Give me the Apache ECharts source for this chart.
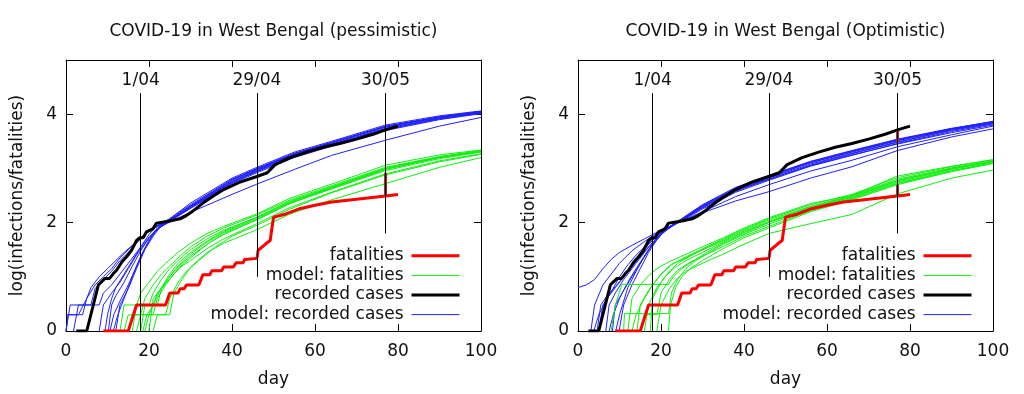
<!DOCTYPE html>
<html><head><meta charset="utf-8">
<script src="https://cdn.jsdelivr.net/npm/echarts@6/dist/echarts.min.js"></script>
<style>html,body{margin:0;padding:0;background:#fff}#c{width:1024px;height:394px}</style>
</head><body><div id="c"></div>
<script>
// ---------------- DATA ----------------
const panelTitles = ['COVID-19 in West Bengal (pessimistic)', 'COVID-19 in West Bengal (Optimistic)'];
const xTickStep = 20;
const legendNames = ['fatalities', 'model: fatalities', 'recorded cases', 'model: recorded cases'];

// observed (log10) — same in both panels
const fatalities = [[9,0],[15,0],[17,0.48],[24,0.48],[25,0.7],[27,0.7],[27.5,0.78],[28.5,0.78],[29,0.85],[32,0.85],[33,1.04],[34.7,1.04],[35.1,1.11],[37.5,1.11],[38,1.18],[40.3,1.18],[41,1.26],[42.7,1.26],[43,1.32],[46,1.34],[46.3,1.49],[48,1.6],[49.2,1.67],[50,2.1],[53,2.16],[56,2.25],[60,2.32],[64,2.38],[70,2.43],[77,2.49],[80,2.52]];
const recordedCases = [[2.5,0],[5,0],[7.8,0.85],[9.4,0.97],[10.5,0.97],[11.4,1.06],[12.2,1.12],[13.4,1.27],[14.6,1.37],[15.8,1.49],[17,1.67],[17.8,1.72],[18.6,1.72],[19.4,1.83],[21,1.89],[21.8,1.99],[23.5,2.01],[25,2.03],[27.5,2.07],[29,2.13],[30.7,2.22],[33,2.36],[35.5,2.49],[38,2.61],[42,2.75],[46,2.85],[48.5,2.92],[50.4,3.07],[54,3.2],[58,3.3],[62,3.39],[66,3.46],[70,3.54],[74,3.63],[77,3.71],[80,3.78]];

// pessimistic model runs
const pessModelCases = [
 [[0,0],[1,0.48],[6,0.48],[7,0.78],[9,0.95],[11,1.1],[13,1.3],[15,1.45],[17,1.62],[19,1.78],[21,1.9],[24,2.0],[30,2.3],[40,2.75],[46,2.97],[55,3.26],[64,3.47],[77,3.76],[90,3.94],[100,4.04]],
 [[0,0.3],[3,0.3],[5,0.6],[7,0.85],[9,1.0],[11,1.15],[13,1.35],[15,1.5],[17,1.65],[20,1.85],[23,1.97],[30,2.33],[40,2.8],[46,3.0],[55,3.28],[64,3.48],[77,3.78],[90,3.95],[100,4.05]],
 [[1.8,0],[3,0.48],[8,0.48],[9,0.7],[11,0.85],[13,1.05],[15,1.25],[17,1.45],[19,1.65],[22,1.88],[25,2.03],[30,2.28],[40,2.74],[46,2.95],[55,3.23],[64,3.44],[77,3.73],[90,3.92],[100,4.03]],
 [[9.4,0],[10,0.3],[11,0.6],[12,0.8],[14,1.05],[16,1.3],[18,1.55],[20,1.78],[22,1.95],[25,2.07],[30,2.36],[40,2.82],[46,3.02],[55,3.3],[64,3.5],[77,3.8],[90,3.97],[100,4.06]],
 [[10.2,0],[11,0.48],[12,0.65],[14,0.9],[16,1.2],[18,1.48],[20,1.72],[22,1.9],[25,2.05],[30,2.3],[40,2.78],[46,2.98],[55,3.27],[64,3.47],[77,3.77],[90,3.95],[100,4.05]],
 [[10.6,0],[11.5,0.3],[13,0.55],[15,0.85],[17,1.2],[19,1.52],[21,1.78],[23,1.95],[26,2.1],[30,2.31],[40,2.79],[46,2.99],[55,3.27],[64,3.48],[77,3.77],[90,3.95],[100,4.05]],
 [[11.4,0],[12.5,0.3],[14,0.6],[16,1.0],[18,1.38],[20,1.68],[22,1.88],[24,1.98],[27,2.12],[30,2.26],[40,2.72],[46,2.92],[55,3.2],[64,3.41],[77,3.7],[90,3.9],[100,4.01]],
 [[0,0],[0.5,0.3],[4,0.3],[5,0.6],[6,0.8],[8,1.0],[10,1.15],[12,1.3],[14,1.45],[16,1.58],[18,1.72],[20,1.85],[22,1.93],[25,2.04],[30,2.29],[40,2.76],[46,2.96],[55,3.24],[64,3.45],[77,3.74],[90,3.93],[100,4.03]],
 [[8,0],[9,0.48],[11,0.7],[13,0.9],[15,1.15],[17,1.4],[19,1.62],[21,1.8],[23,1.93],[26,2.05],[30,2.19],[40,2.52],[46,2.71],[55,2.98],[64,3.24],[77,3.52],[90,3.78],[100,3.94]],
 [[12,0],[13,0.48],[15,0.78],[17,1.15],[19,1.5],[21,1.75],[23,1.95],[26,2.08],[30,2.27],[40,2.74],[46,2.94],[55,3.22],[64,3.43],[77,3.72],[90,3.91],[100,4.02]]
];
const pessModelFatal = [
 [[14,0],[15,0.3],[18,0.3],[19,0.6],[21,0.85],[23,1.05],[25,1.2],[27,1.35],[30,1.55],[34,1.75],[38,1.9],[46,2.14],[54,2.42],[64,2.68],[77,3.02],[90,3.22],[100,3.33]],
 [[15,0],[16,0.3],[20,0.3],[21,0.48],[22,0.7],[24,0.9],[26,1.1],[28,1.25],[30,1.38],[34,1.6],[38,1.78],[46,2.05],[54,2.35],[64,2.63],[77,2.98],[90,3.2],[100,3.31]],
 [[16,0],[17,0.48],[20,0.48],[21,0.7],[23,0.95],[25,1.15],[27,1.3],[30,1.5],[34,1.7],[38,1.86],[46,2.1],[54,2.4],[64,2.66],[77,3.0],[90,3.21],[100,3.32]],
 [[17,0],[18,0.3],[21,0.3],[22,0.6],[24,0.85],[26,1.05],[28,1.2],[30,1.3],[34,1.52],[38,1.7],[46,1.98],[54,2.28],[64,2.56],[77,2.9],[90,3.14],[100,3.27]],
 [[18,0],[19,0.48],[22,0.48],[23,0.78],[25,1.0],[27,1.2],[30,1.42],[34,1.64],[38,1.82],[46,2.08],[54,2.37],[64,2.64],[77,2.99],[90,3.2],[100,3.31]],
 [[19,0],[20,0.3],[24,0.3],[25,0.6],[27,0.9],[29,1.1],[32,1.3],[36,1.55],[40,1.75],[46,1.95],[54,2.25],[64,2.55],[77,2.88],[90,3.12],[100,3.26]],
 [[20,0],[21,0.6],[23,0.78],[25,0.95],[27,1.15],[30,1.35],[34,1.6],[38,1.8],[46,2.06],[54,2.36],[64,2.62],[77,2.96],[90,3.18],[100,3.3]],
 [[13,0],[14,0.48],[17,0.48],[18,0.7],[20,0.9],[22,1.1],[24,1.25],[27,1.45],[30,1.62],[34,1.8],[38,1.93],[46,2.16],[54,2.45],[64,2.71],[77,3.06],[90,3.25],[100,3.34]],
 [[21,0],[22,0.3],[25,0.3],[26,0.7],[28,0.95],[30,1.18],[34,1.45],[38,1.62],[46,1.87],[54,2.16],[64,2.42],[77,2.72],[90,3.02],[100,3.2]],
 [[18.5,0],[19.5,0.3],[21,0.48],[23,0.8],[25,1.05],[27,1.25],[30,1.45],[34,1.66],[38,1.84],[46,2.1],[54,2.38],[64,2.65],[77,3.0],[90,3.21],[100,3.32]]
];

// optimistic model runs
const optModelCases = [
 [[0,0.8],[2,0.85],[4,0.95],[6,1.15],[8,1.32],[10,1.45],[13,1.58],[16,1.7],[19,1.82],[23,1.96],[30,2.3],[38,2.6],[46,2.8],[56,3.05],[66,3.25],[77,3.45],[90,3.66],[100,3.8]],
 [[3.1,0],[4,0.48],[6,0.85],[8,1.05],[10,1.25],[13,1.48],[16,1.65],[19,1.8],[23,1.97],[30,2.33],[38,2.65],[46,2.87],[56,3.13],[66,3.33],[77,3.54],[90,3.74],[100,3.86]],
 [[3.8,0],[5,0.3],[7,0.6],[9,0.8],[11,1.0],[14,1.3],[17,1.6],[20,1.82],[23,1.96],[30,2.3],[38,2.62],[46,2.84],[56,3.1],[66,3.3],[77,3.51],[90,3.72],[100,3.85]],
 [[4.6,0],[5.5,0.48],[7,0.65],[9,0.82],[11,1.0],[14,1.28],[17,1.55],[20,1.8],[23,1.97],[30,2.32],[38,2.64],[46,2.86],[56,3.12],[66,3.32],[77,3.53],[90,3.73],[100,3.86]],
 [[6.7,0],[7.5,0.48],[9,0.7],[11,0.95],[14,1.25],[17,1.55],[20,1.8],[23,1.96],[30,2.28],[38,2.6],[46,2.82],[56,3.08],[66,3.28],[77,3.49],[90,3.71],[100,3.84]],
 [[7.5,0],[8.5,0.3],[10,0.6],[12,0.9],[14,1.15],[17,1.5],[20,1.78],[23,1.95],[30,2.25],[38,2.56],[46,2.78],[56,3.04],[66,3.24],[77,3.46],[90,3.68],[100,3.82]],
 [[8.3,0],[9,0.48],[11,0.75],[13,1.0],[15,1.25],[18,1.6],[21,1.86],[24,2.0],[30,2.27],[38,2.58],[46,2.8],[56,3.06],[66,3.27],[77,3.48],[90,3.7],[100,3.83]],
 [[9.1,0],[10,0.3],[12,0.8],[14,1.1],[16,1.38],[18,1.62],[21,1.87],[24,2.0],[30,2.2],[38,2.48],[46,2.7],[56,2.95],[66,3.15],[77,3.4],[90,3.62],[100,3.78]],
 [[9.9,0],[11,0.48],[13,0.85],[15,1.15],[17,1.45],[19,1.68],[21,1.86],[24,1.99],[30,2.18],[38,2.4],[46,2.57],[56,2.82],[66,3.03],[77,3.33],[90,3.58],[100,3.73]],
 [[5,0],[6,0.48],[8,0.72],[10,1.0],[12,1.22],[14,1.4],[16,1.55],[18,1.68],[21,1.88],[24,2.01],[30,2.3],[38,2.62],[46,2.85],[56,3.11],[66,3.31],[77,3.52],[90,3.73],[100,3.87]]
];
const optModelFatal = [
 [[8,0],[9,0.48],[10.6,0.86],[21.8,0.86],[23,1.0],[25,1.15],[28,1.3],[31,1.45],[35,1.62],[40,1.8],[46,2.0],[56,2.27],[66,2.47],[77,2.75],[90,2.98],[100,3.12]],
 [[11,0],[11.2,0.32],[21.8,0.32],[22.5,0.7],[24,0.95],[26,1.15],[28,1.28],[31,1.42],[35,1.6],[40,1.78],[46,1.97],[56,2.25],[66,2.45],[77,2.73],[90,2.96],[100,3.1]],
 [[14.2,0],[15,0.48],[17,0.75],[19,0.95],[21,1.12],[23,1.25],[26,1.35],[30,1.5],[35,1.68],[40,1.86],[46,2.05],[56,2.3],[66,2.5],[77,2.8],[90,3.01],[100,3.14]],
 [[17.4,0],[18,0.6],[20,0.9],[22,1.1],[24,1.25],[27,1.38],[30,1.5],[35,1.66],[40,1.84],[46,2.02],[56,2.29],[66,2.49],[77,2.78],[90,3.0],[100,3.13]],
 [[21.8,0],[22.3,0.48],[23.5,0.8],[25,1.0],[27,1.15],[30,1.3],[35,1.52],[40,1.72],[46,1.9],[56,2.2],[66,2.42],[77,2.7],[90,2.94],[100,3.09]],
 [[13,0],[14,0.3],[16,0.6],[18,0.85],[20,1.05],[22,1.2],[25,1.33],[29,1.48],[35,1.7],[40,1.88],[46,2.07],[56,2.33],[66,2.52],[77,2.83],[90,3.03],[100,3.16]],
 [[16,0],[17,0.48],[19,0.8],[21,1.0],[23,1.15],[26,1.3],[30,1.45],[35,1.64],[40,1.82],[46,2.01],[56,2.27],[66,2.47],[77,2.77],[90,2.99],[100,3.13]],
 [[15,0],[16,0.3],[19,0.3],[20,0.7],[22,0.95],[24,1.12],[27,1.27],[30,1.38],[35,1.56],[40,1.75],[46,1.93],[56,2.22],[66,2.44],[77,2.72],[90,2.95],[100,3.1]],
 [[19,0],[20,0.48],[22,0.78],[24,0.98],[26,1.1],[30,1.25],[35,1.42],[40,1.6],[46,1.8],[56,1.98],[66,2.15],[77,2.53],[90,2.82],[100,2.97]],
 [[12,0],[13,0.6],[15,0.85],[17,1.02],[19,1.15],[22,1.28],[25,1.38],[29,1.52],[35,1.72],[40,1.9],[46,2.09],[56,2.35],[66,2.5],[77,2.86],[90,3.04],[100,3.16]]
];

// date markers
const markerDays = [18, 46, 77];
const markerLabels = ['1/04', '29/04', '30/05'];
const markerBottoms = [0, 1, 1.8];
const markerTop = 4.39;

// prediction bars at 30/05: [day, low, high]
const pessBars = [[77, 2.49, 2.92]];
const optBars = [[77, 3.48, 3.69], [77, 2.5, 2.7]];

// ---------------- CHART ----------------
const FONT = 'DejaVu Sans';
const FS = 17;
const TXT = '#111';
const chart = echarts.init(document.getElementById('c'), null, {renderer: 'canvas'});

const grids = [{left: 66, top: 60, width: 415, height: 271}, {left: 578, top: 60, width: 415, height: 271}];
const xAxes = [], yAxes = [];
for (let p = 0; p < 2; p++) {
  const tick = {show: true, inside: true, length: 7, lineStyle: {color: '#000'}};
  const line = {show: true, onZero: false, lineStyle: {color: '#000', width: 1}};
  xAxes.push({type: 'value', gridIndex: p, min: 0, max: 100, interval: xTickStep, position: 'bottom',
    axisLine: line, axisTick: tick, splitLine: {show: false},
    axisLabel: {margin: 12, fontFamily: FONT, fontSize: FS, color: TXT},
    name: 'day', nameLocation: 'middle', nameGap: 40, nameTextStyle: {fontFamily: FONT, fontSize: FS, color: TXT}});
  xAxes.push({type: 'value', gridIndex: p, min: 0, max: 100, interval: xTickStep, position: 'top',
    axisLine: line, axisTick: tick, splitLine: {show: false}, axisLabel: {show: false}});
  yAxes.push({type: 'value', gridIndex: p, min: 0, max: 5, interval: 2, position: 'left',
    axisLine: line, axisTick: tick, splitLine: {show: false},
    axisLabel: {margin: 9, fontFamily: FONT, fontSize: FS, color: TXT, showMaxLabel: false,
      formatter: v => (v === 5 ? '' : String(v))},
    name: 'log(infections/fatalities)', nameLocation: 'middle', nameGap: 40, nameRotate: 90,
    nameTextStyle: {fontFamily: FONT, fontSize: FS, color: TXT}});
  yAxes.push({type: 'value', gridIndex: p, min: 0, max: 5, interval: 2, position: 'right',
    axisLine: line, axisTick: tick, splitLine: {show: false}, axisLabel: {show: false}});
}

const series = [];
function addLine(p, name, data, color, width) {
  series.push({type: 'line', name: name, xAxisIndex: 2 * p, yAxisIndex: 2 * p, data: data,
    symbol: 'none', showSymbol: false, silent: true, animation: false,
    lineStyle: {color: color, width: width}, itemStyle: {color: color}, z: 2});
}
const panels = [
  {cases: pessModelCases, fatal: pessModelFatal, bars: pessBars},
  {cases: optModelCases, fatal: optModelFatal, bars: optBars}
];
panels.forEach((pn, p) => {
  pn.cases.forEach(c => addLine(p, 'model: recorded cases', c, '#2020ff', 1));
  pn.fatal.forEach(c => addLine(p, 'model: fatalities', c, '#10ee10', 1));
  addLine(p, 'recorded cases', recordedCases, '#000000', 3);
  addLine(p, 'fatalities', fatalities, '#ff0000', 3);
  pn.bars.forEach(b => addLine(p, 'bar', [[b[0], b[1]], [b[0], b[2]]], '#a52a2a', 3));
  series.push({type: 'line', name: 'markers', xAxisIndex: 2 * p, yAxisIndex: 2 * p, data: [],
    silent: true, animation: false,
    markLine: {symbol: ['none', 'none'], silent: true, animation: false,
      lineStyle: {color: '#000', width: 1, type: 'solid'},
      label: {show: true, position: 'end', distance: 4, fontFamily: FONT, fontSize: FS, color: TXT},
      data: markerDays.map((d, i) => [
        {coord: [d, markerBottoms[i]]},
        {coord: [d, markerTop], label: {formatter: markerLabels[i]}}
      ])}});
});

const legendWidths = [3, 1, 3, 1];
const option = {
  backgroundColor: '#fff',
  animation: false,
  title: panelTitles.map((t, p) => ({text: t, left: grids[p].left + grids[p].width / 2, top: 23, padding: 0, textAlign: 'center',
    textStyle: {fontFamily: FONT, fontSize: FS, fontWeight: 'normal', color: TXT}})),
  grid: grids,
  xAxis: xAxes,
  yAxis: yAxes,
  legend: [0, 1].map(p => ({
    orient: 'vertical', align: 'right', right: p === 0 ? 563 : 51, top: 246, padding: 0,
    itemWidth: 48, itemHeight: 14, itemGap: 0, selectedMode: false,
    itemStyle: {opacity: 0, borderWidth: 0},
    textStyle: {fontFamily: FONT, fontSize: FS, color: TXT, lineHeight: 19.6, padding: [0, 3, 0, 0]},
    data: legendNames.map((n, k) => ({name: n, lineStyle: {width: legendWidths[k]}, itemStyle: {opacity: 0}}))
  })),
  series: series
};
chart.setOption(option);
</script>
</body></html>
